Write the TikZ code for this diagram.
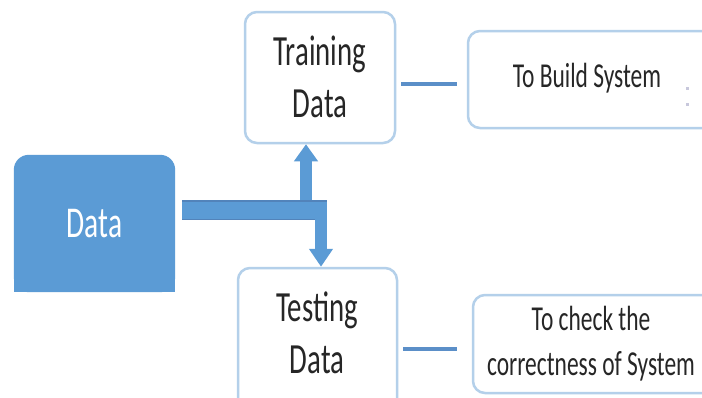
\documentclass[tikz,border=0pt]{standalone}
\usepackage{fontspec}
\setmainfont{Carlito}[FakeStretch=0.67]
\usetikzlibrary{arrows.meta,backgrounds}
\definecolor{dblue}{HTML}{5B9BD5}
\definecolor{edgec}{HTML}{5283BA}
\definecolor{lborder}{HTML}{B4D0EA}
\definecolor{connc}{HTML}{5B8FC8}
\definecolor{txt}{HTML}{262626}
\definecolor{dotc}{HTML}{C8C8DC}
\begin{document}
\begin{tikzpicture}[x=1pt,y=-1pt,
  box/.style={draw=lborder, line width=2.5pt, rounded corners=12pt, inner sep=0pt},
  bigtxt/.style={text=txt, font=\fontsize{43}{52}\selectfont, align=center, inner sep=0pt},
  smalltxt/.style={text=txt, font=\fontsize{35}{45}\selectfont, align=center, inner sep=0pt},
  connline/.style={draw=connc, line width=4pt},
  flow/.style={draw=dblue, line cap=butt},
  flowedge/.style={draw=edgec, line width=1.5pt}]
\useasboundingbox (0,0) rectangle (702,397);
% Data box
\node[minimum width=161pt, minimum height=137pt, inner sep=0pt, text=white,
      font=\fontsize{44}{52}\selectfont] (data) at (94.5,223.5) {Data};
\begin{scope}[on background layer]
  \fill[white] (0,0) rectangle (702,397);
  \fill[dblue, rounded corners=15pt] (data.south west) rectangle (data.north east);
  \fill[dblue] (data.south west) rectangle (data.east);
\end{scope}
% boxes
\node[box, minimum width=150pt, minimum height=131pt] (train) at (320,77.5) {};
\node[bigtxt] (traintxt) at (320,77) {Training\\Data};
\node[box, minimum width=159pt, minimum height=162pt] (test) at (317.5,349) {};
\node[bigtxt] (testtxt) at (317,333) {Testing\\Data};
\node[box, minimum width=272pt, minimum height=97pt] (build) at (604,79.5) {};
\node[smalltxt] (buildtxt) at (587,78) {To Build System};
\node[box, minimum width=272pt, minimum height=98pt] (check) at (609,344) {};
\node[smalltxt] (checktxt) at (591,344) {To check the\\correctness of System};
% connectors
\draw[connline, shorten <=5pt, shorten >=10pt] (train.east |- 0,84) -- (build.west |- 0,84);
\draw[connline, shorten <=5pt, shorten >=15pt] (test.east |- 0,349) -- (check.west |- 0,349);
% split arrow
\coordinate (upx) at (306,205);
\coordinate (dnx) at (321,215);
\coordinate (bartop) at (327,200.75);
\coordinate (barbot) at (315,219.25);
\draw[flow, line width=20pt, shorten <=7pt] (data.east |- 0,210) -- (327,210);
\draw[flow, line width=12pt, -{Triangle[width=23pt,length=17pt]}] (upx) -- (upx |- train.south);
\draw[flow, line width=12pt, -{Triangle[width=23pt,length=18pt]}] (dnx) -- (dnx |- test.north);
\draw[flowedge, shorten <=7pt] (data.east |- bartop) -- (bartop);
\draw[flowedge, shorten <=7pt] (data.east |- barbot) -- (barbot);
% small dots
\fill[dotc] (685.5,86.5) rectangle (688.5,89.5);
\fill[dotc] (685.5,102.5) rectangle (688.5,105.5);
\end{tikzpicture}
\end{document}
